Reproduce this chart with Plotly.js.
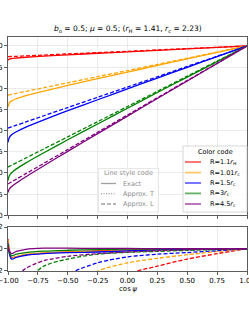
<!DOCTYPE html>
<html><head><meta charset="utf-8">
<script src="https://cdn.plot.ly/plotly-3.0.1.min.js"></script>
<style>html,body{margin:0;padding:0;background:#fff}#g{width:249px;height:310px}</style>
</head><body><div id="g"></div>
<script>
// ---- data ----
const cosPsi = [-1, -0.99, -0.97, -0.93, -0.85, -0.7, -0.5, -0.25, 0, 0.25, 0.5, 0.75, 1];
const seriesNames = ["R=1.1<i>r</i><sub>H</sub>", "R=1.01<i>r</i><sub>c</sub>", "R=1.5<i>r</i><sub>c</sub>", "R=3<i>r</i><sub>c</sub>", "R=4.5<i>r</i><sub>c</sub>"];
const seriesColors = ["#ff0000", "#ffa500", "#0000ff", "#008000", "#800080"];
const legendColors = ["rgba(255,0,0,0.6)", "rgba(255,165,0,0.6)", "rgba(0,0,255,0.6)", "rgba(0,128,0,0.6)", "rgba(128,0,128,0.6)"];
// top panel: exact (solid)
const exactRed    = [0.830, 0.844, 0.852, 0.858, 0.867, 0.881, 0.896, 0.914, 0.931, 0.949, 0.966, 0.983, 1.0];
const exactOrange = [0.280, 0.325, 0.352, 0.377, 0.414, 0.468, 0.534, 0.614, 0.692, 0.770, 0.847, 0.924, 1.0];
const exactBlue   = [-0.140, -0.084, -0.049, -0.013, 0.042, 0.128, 0.236, 0.365, 0.493, 0.621, 0.748, 0.874, 1.0];
const exactGreen  = [-0.590, -0.535, -0.497, -0.452, -0.381, -0.261, -0.108, 0.079, 0.264, 0.450, 0.633, 0.816, 1.0];
const exactPurple = [-0.730, -0.692, -0.661, -0.618, -0.544, -0.414, -0.245, -0.036, 0.172, 0.380, 0.587, 0.793, 1.0];
// top panel: approx L (dashed)
const approxLRed    = [0.874, 0.875, 0.876, 0.878, 0.883, 0.893, 0.906, 0.921, 0.937, 0.953, 0.969, 0.984, 1.0];
const approxLOrange = [0.420, 0.423, 0.429, 0.440, 0.464, 0.507, 0.565, 0.638, 0.710, 0.783, 0.855, 0.928, 1.0];
const approxLBlue   = [0.030, 0.035, 0.045, 0.064, 0.103, 0.176, 0.273, 0.394, 0.515, 0.636, 0.758, 0.879, 1.0];
const approxLGreen  = [-0.430, -0.423, -0.409, -0.380, -0.323, -0.216, -0.073, 0.106, 0.285, 0.464, 0.643, 0.821, 1.0];
const approxLPurple = [-0.630, -0.622, -0.606, -0.573, -0.508, -0.386, -0.223, -0.019, 0.185, 0.389, 0.593, 0.796, 1.0];
// lower panel: solid
const lowSolidRed    = [0.9, 0.0, -0.8, -0.75, -0.55, -0.4, -0.3, -0.2, -0.12, -0.07, -0.03, -0.01, 0];
const lowSolidOrange = [0.8, -0.2, -0.85, -0.72, -0.52, -0.38, -0.3, -0.24, -0.16, -0.09, -0.04, -0.01, 0];
const lowSolidBlue   = [0.5, -0.4, -0.95, -0.8, -0.6, -0.45, -0.36, -0.3, -0.2, -0.1, -0.05, -0.01, 0];
const lowSolidGreen  = [0.4, -0.3, -0.65, -0.5, -0.35, -0.22, -0.14, -0.08, -0.04, -0.02, -0.01, 0, 0];
const lowSolidPurple = [0.2, -0.2, -0.45, -0.25, -0.05, 0.05, 0.05, 0.03, 0.02, 0.01, 0.01, 0, 0];
// lower panel: dashed
const lowDashRed    = [-50, -48, -45, -40, -30, -20, -12, -5, -2.4, -1.6, -0.95, -0.45, 0];
const lowDashOrange = [-30, -28, -25, -20, -15, -9, -4.5, -2.1, -1.3, -0.88, -0.55, -0.25, 0];
const lowDashBlue   = [-20, -18, -16, -12, -8, -4.5, -2.4, -1.3, -0.75, -0.5, -0.35, -0.18, 0];
const lowDashGreen  = [-9, -8, -7, -5, -3.1, -1.6, -0.95, -0.5, -0.33, -0.24, -0.15, -0.07, 0];
const lowDashPurple = [-5, -4.5, -3.6, -2.6, -1.8, -1.1, -0.7, -0.45, -0.3, -0.18, -0.1, -0.04, 0];
const xTicks = [-1, -0.75, -0.5, -0.25, 0, 0.25, 0.5, 0.75, 1];
const xTickText = ["\u22121.00", "\u22120.75", "\u22120.50", "\u22120.25", "0.00", "0.25", "0.50", "0.75", "1.00"];
const yTopTicks = [-1, -0.75, -0.5, -0.25, 0, 0.25, 0.5, 0.75, 1];
const yTopTickText = ["\u22121.00", "\u22120.75", "\u22120.50", "\u22120.25", "0.00", "0.25", "0.50", "0.75", "1.00"];
const yLowTicks = [-2, 0, 2];
const yLowTickText = ["\u22122", "0", "2"];
const styleNames = ["Exact", "Approx. T", "Approx. L"];

const exact = [exactRed, exactOrange, exactBlue, exactGreen, exactPurple];
const approxL = [approxLRed, approxLOrange, approxLBlue, approxLGreen, approxLPurple];
const lowSolid = [lowSolidRed, lowSolidOrange, lowSolidBlue, lowSolidGreen, lowSolidPurple];
const lowDash = [lowDashRed, lowDashOrange, lowDashBlue, lowDashGreen, lowDashPurple];

const LW = 1.3, DASH = "4px,2px";
const traces = [];
for (let i = 0; i < 5; i++) {
  traces.push({x: cosPsi, y: exact[i], xaxis: 'x', yaxis: 'y', mode: 'lines', showlegend: false,
    line: {color: seriesColors[i], width: LW, shape: 'spline', smoothing: 0.8}});
  traces.push({x: cosPsi, y: approxL[i], xaxis: 'x', yaxis: 'y', mode: 'lines', showlegend: false,
    line: {color: seriesColors[i], width: LW, dash: DASH, shape: 'spline', smoothing: 0.8}});
}
for (let i = 0; i < 5; i++) {
  traces.push({x: cosPsi, y: lowSolid[i], xaxis: 'x2', yaxis: 'y2', mode: 'lines', showlegend: false,
    line: {color: seriesColors[i], width: LW, shape: 'spline', smoothing: 0.8}});
  traces.push({x: cosPsi, y: lowDash[i], xaxis: 'x2', yaxis: 'y2', mode: 'lines', showlegend: false,
    line: {color: seriesColors[i], width: LW, dash: DASH, shape: 'spline', smoothing: 0.8}});
}

// pixel -> paper helpers (plot area: x 8..247, y 37..271)
const L = 8, R = 2, T = 37, B = 39, W = 249, H = 310;
const pw = W - L - R, ph = H - T - B;
const px = v => (v - L) / pw;
const py = v => (H - B - v) / ph;

const shapes = [], annotations = [];
const FONT = 'DejaVu Sans, sans-serif';
// Color code legend
shapes.push({type: 'rect', xref: 'paper', yref: 'paper', x0: px(183), x1: px(247), y0: py(212), y1: py(146),
  line: {color: '#cccccc', width: 0.8}, fillcolor: 'rgba(255,255,255,0.8)', layer: 'above'});
annotations.push({xref: 'paper', yref: 'paper', x: px(215), y: py(151.5), text: 'Color code', showarrow: false,
  xanchor: 'center', yanchor: 'middle', font: {family: FONT, size: 6.5, color: '#000'}});
const rowY = [162, 172.6, 183, 193.4, 204];
for (let i = 0; i < 5; i++) {
  shapes.push({type: 'line', xref: 'paper', yref: 'paper', x0: px(185), x1: px(201), y0: py(rowY[i]), y1: py(rowY[i]),
    line: {color: legendColors[i], width: 1.8}, layer: 'above'});
  annotations.push({xref: 'paper', yref: 'paper', x: px(207.5), y: py(rowY[i]), text: seriesNames[i], showarrow: false,
    xanchor: 'left', yanchor: 'middle', font: {family: FONT, size: 6.5, color: '#000'}});
}
// Line style legend
shapes.push({type: 'rect', xref: 'paper', yref: 'paper', x0: px(98.5), x1: px(158.5), y0: py(212), y1: py(168.5),
  line: {color: 'rgba(204,204,204,0.6)', width: 0.8}, fillcolor: 'rgba(255,255,255,0.8)', layer: 'above'});
annotations.push({xref: 'paper', yref: 'paper', x: px(128.5), y: py(173.5), text: 'Line style code', showarrow: false,
  xanchor: 'center', yanchor: 'middle', font: {family: FONT, size: 6.5, color: '#8c8c8c'}});
const sRowY = [183.5, 193.6, 204];
const sDash = ['solid', '1px,1.5px', '4px,2px'];
for (let i = 0; i < 3; i++) {
  shapes.push({type: 'line', xref: 'paper', yref: 'paper', x0: px(101), x1: px(116), y0: py(sRowY[i]), y1: py(sRowY[i]),
    line: {color: '#a0a0a0', width: 1.3, dash: sDash[i]}, layer: 'above'});
  annotations.push({xref: 'paper', yref: 'paper', x: px(121), y: py(sRowY[i]), text: styleNames[i], showarrow: false,
    xanchor: 'left', yanchor: 'middle', font: {family: FONT, size: 6.5, color: '#8c8c8c'}});
}
// x axis title
annotations.push({xref: 'paper', yref: 'paper', x: px(128), y: py(288.5), text: 'cos\u2009<i>\u03c8</i>', showarrow: false,
  xanchor: 'center', yanchor: 'middle', font: {family: FONT, size: 7, color: '#000'}});
// title
annotations.push({xref: 'paper', yref: 'paper', x: px(128), y: py(29.5),
  text: '<i>b</i><sub>o</sub> = 0.5; <i>\u03bc</i> = 0.5; (<i>r</i><sub>H</sub> = 1.41, <i>r</i><sub>c</sub> = 2.23)',
  showarrow: false, xanchor: 'center', yanchor: 'middle', font: {family: FONT, size: 7.5, color: '#000'}});

const axCommon = {showline: true, mirror: true, linecolor: '#333', linewidth: 0.8, ticks: 'outside', ticklen: 3,
  tickwidth: 0.8, tickcolor: '#333', showgrid: true, gridcolor: '#e6e6e6', gridwidth: 0.8, zeroline: false,
  ticklabeloverflow: 'allow', tickfont: {family: FONT, size: 7, color: '#000'}};
const layout = {
  width: W, height: H, margin: {l: L, r: R, t: T, b: B, pad: 0},
  paper_bgcolor: '#fff', plot_bgcolor: '#fff', showlegend: false,
  xaxis: Object.assign({}, axCommon, {domain: [0, 1], anchor: 'y', range: [-1, 1], tickvals: xTicks, ticktext: xTickText, showticklabels: false}),
  yaxis: Object.assign({}, axCommon, {domain: [py(215.3), 1], anchor: 'x', range: [-1, 1.106], tickvals: yTopTicks, ticktext: yTopTickText}),
  xaxis2: Object.assign({}, axCommon, {domain: [0, 1], anchor: 'y2', range: [-1, 1], matches: 'x', tickvals: xTicks, ticktext: xTickText}),
  yaxis2: Object.assign({}, axCommon, {domain: [0, py(226.7)], anchor: 'x2', range: [-2.05, 2.03], tickvals: yLowTicks, ticktext: yLowTickText}),
  shapes: shapes, annotations: annotations
};
Plotly.newPlot('g', traces, layout, {displayModeBar: false, staticPlot: true});
</script></body></html>
